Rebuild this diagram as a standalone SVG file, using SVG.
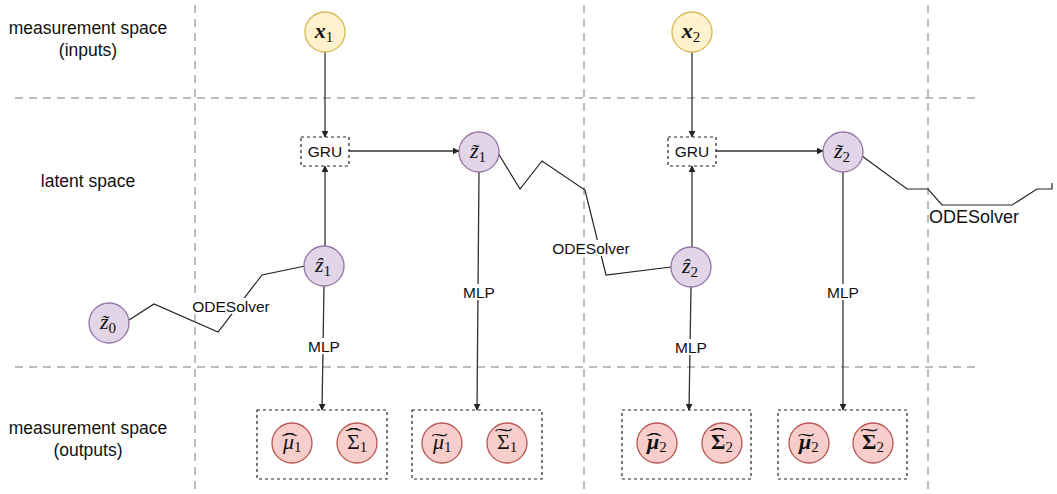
<svg xmlns="http://www.w3.org/2000/svg" width="1057" height="494" viewBox="0 0 1057 494">
<style>
.grid{stroke:#bdbdbd;stroke-width:2;stroke-dasharray:8 6;fill:none}
.conn{stroke:#333;stroke-width:1.3;fill:none}
.zig{stroke:#222;stroke-width:1.2;fill:none}
.lbl{font-family:"Liberation Sans",Arial,sans-serif;font-size:15.5px;fill:#111;text-anchor:middle}
.big{font-size:18px}
.side{font-family:"Liberation Sans",Arial,sans-serif;font-size:17.5px;fill:#111;text-anchor:middle}
.bg{fill:#fff;stroke:none}
.yel{fill:#fff2cc;stroke:#d6b656;stroke-width:1.3}
.pur{fill:#e1d5e7;stroke:#9673a6;stroke-width:1.3}
.pink{fill:#f8cecc;stroke:#b85450;stroke-width:1.3}
.dbox{fill:#fff;stroke:#222;stroke-width:1.2;stroke-dasharray:3 3}
.obox{fill:none;stroke:#222;stroke-width:1.2;stroke-dasharray:3 3}
.m{font-family:"Liberation Serif","DejaVu Serif",serif;font-size:22px;font-style:italic;fill:#111;text-anchor:middle}
.ms{font-family:"Liberation Serif","DejaVu Serif",serif;font-size:22px;font-style:italic;fill:#111;text-anchor:start}
.up{font-style:normal}
.mb{font-weight:bold}
.s{font-style:normal;font-size:15px;font-weight:normal}
.acc{font-family:"Liberation Serif","DejaVu Serif",serif;font-size:22px;fill:#111;text-anchor:middle}
</style>
<defs>
<marker id="arr" viewBox="0 0 10 10" refX="9" refY="5" markerWidth="7" markerHeight="7" markerUnits="userSpaceOnUse" orient="auto">
<path d="M0,0 L10,5 L0,10 z" fill="#222"/>
</marker>
</defs>

<g id="grid">
<line class="grid" x1="195" y1="5" x2="195" y2="490"/>
<line class="grid" x1="584" y1="5" x2="584" y2="490"/>
<line class="grid" x1="928" y1="5" x2="928" y2="490"/>
<line class="grid" x1="15" y1="98" x2="978" y2="98"/>
<line class="grid" x1="15" y1="367" x2="978" y2="367"/>
</g>

<g id="side-labels">
<text class="side" x="88" y="34">measurement space</text>
<text class="side" x="88" y="56">(inputs)</text>
<text class="side" x="88" y="187">latent space</text>
<text class="side" x="88" y="434">measurement space</text>
<text class="side" x="88" y="456">(outputs)</text>
</g>

<g id="connectors">
<path class="conn" d="M325,52 V137" marker-end="url(#arr)"/>
<path class="conn" d="M325,246 V166" marker-end="url(#arr)"/>
<path class="conn" d="M349,151 H459" marker-end="url(#arr)"/>
<path class="conn" d="M692,52 V137" marker-end="url(#arr)"/>
<path class="conn" d="M692,247 V166" marker-end="url(#arr)"/>
<path class="conn" d="M716,151 H823" marker-end="url(#arr)"/>
<path class="conn" d="M324,286 L322,410" marker-end="url(#arr)"/>
<path class="conn" d="M479,172 L477,410" marker-end="url(#arr)"/>
<path class="conn" d="M691,287 L689,410" marker-end="url(#arr)"/>
<path class="conn" d="M843,172 V410" marker-end="url(#arr)"/>
<path class="zig" d="M129,320 L154,304 L218,332 L262,275 L305,266"/>
<path class="zig" d="M498,153 L520,189 L542,161 L585,190 L606,275 L671,267"/>
<path class="zig" d="M862,156 L907,189 L928,189 L942,205 L1012,205 L1037,189 L1052,189 L1052,183"/>
<rect class="bg" x="304" y="338" width="40" height="16"/>
<text class="lbl" x="324" y="352">MLP</text>
<rect class="bg" x="459" y="284" width="40" height="16"/>
<text class="lbl" x="479" y="298">MLP</text>
<rect class="bg" x="671" y="339" width="40" height="16"/>
<text class="lbl" x="691" y="353">MLP</text>
<rect class="bg" x="823" y="284" width="40" height="16"/>
<text class="lbl" x="843" y="298">MLP</text>
<rect class="bg" x="191" y="298" width="80" height="16"/>
<text class="lbl" x="231" y="312">ODESolver</text>
<rect class="bg" x="551" y="240" width="80" height="16"/>
<text class="lbl" x="591" y="254">ODESolver</text>
<rect class="bg" x="931" y="207" width="86" height="20"/>
<text class="lbl big" x="974" y="223">ODESolver</text>
</g>

<g id="x1"><circle class="yel" cx="325" cy="32" r="20"/><text class="m mb" x="324" y="38">x<tspan class="s" dy="4">1</tspan></text></g>
<g id="x2"><circle class="yel" cx="692" cy="32" r="20"/><text class="m mb" x="691" y="38">x<tspan class="s" dy="4">2</tspan></text></g>

<g id="gru1"><rect class="dbox" x="301" y="137" width="48" height="29"/><text class="lbl" x="325" y="157">GRU</text></g>
<g id="gru2"><rect class="dbox" x="668" y="137" width="48" height="29"/><text class="lbl" x="692" y="157">GRU</text></g>

<g id="z0t"><circle class="pur" cx="109" cy="323" r="20"/><text class="m" x="108" y="329">z̃<tspan class="s" dy="4">0</tspan></text></g>
<g id="z1h"><circle class="pur" cx="324" cy="266" r="20"/><text class="m" x="323" y="272">ẑ<tspan class="s" dy="4">1</tspan></text></g>
<g id="z1t"><circle class="pur" cx="479" cy="152" r="20"/><text class="m" x="478" y="158">z̃<tspan class="s" dy="4">1</tspan></text></g>
<g id="z2h"><circle class="pur" cx="691" cy="267" r="20"/><text class="m" x="690" y="273">ẑ<tspan class="s" dy="4">2</tspan></text></g>
<g id="z2t"><circle class="pur" cx="843" cy="152" r="20"/><text class="m" x="842" y="158">z̃<tspan class="s" dy="4">2</tspan></text></g>

<g id="out1"><rect class="obox" x="257" y="410" width="130" height="69"/>
<circle class="pink" cx="292" cy="443" r="20"/><text class="ms" x="283" y="449">μ<tspan class="s" dy="3">1</tspan></text>
<text class="acc" transform="translate(289.5,448) scale(2.2,1)">ˆ</text>
<circle class="pink" cx="357" cy="443" r="20"/><text class="ms up" x="347" y="449">Σ<tspan class="s" dy="3">1</tspan></text>
<text class="acc" transform="translate(353.5,443) scale(2.4,1)">ˆ</text></g>
<g id="out2"><rect class="obox" x="412" y="410" width="130" height="69"/>
<circle class="pink" cx="442" cy="443" r="20"/><text class="ms" x="433" y="449">μ<tspan class="s" dy="3">1</tspan></text>
<text class="acc" transform="translate(439.5,448) scale(2.2,1)">˜</text>
<circle class="pink" cx="507" cy="443" r="20"/><text class="ms up" x="497" y="449">Σ<tspan class="s" dy="3">1</tspan></text>
<text class="acc" transform="translate(503.5,443) scale(2.4,1)">˜</text></g>
<g id="out3"><rect class="obox" x="622" y="410" width="129" height="69"/>
<circle class="pink" cx="657" cy="443" r="20"/><text class="ms mb" x="647" y="449">μ<tspan class="s" dy="3">2</tspan></text>
<text class="acc" transform="translate(654,448) scale(2.2,1)">ˆ</text>
<circle class="pink" cx="722" cy="443" r="20"/><text class="ms up mb" x="711" y="449">Σ<tspan class="s" dy="3">2</tspan></text>
<text class="acc" transform="translate(718,443) scale(2.4,1)">ˆ</text></g>
<g id="out4"><rect class="obox" x="778" y="410" width="129" height="69"/>
<circle class="pink" cx="809" cy="443" r="20"/><text class="ms mb" x="799" y="449">μ<tspan class="s" dy="3">2</tspan></text>
<text class="acc" transform="translate(806,448) scale(2.2,1)">˜</text>
<circle class="pink" cx="873" cy="443" r="20"/><text class="ms up mb" x="862" y="449">Σ<tspan class="s" dy="3">2</tspan></text>
<text class="acc" transform="translate(869,443) scale(2.4,1)">˜</text></g>
</svg>
